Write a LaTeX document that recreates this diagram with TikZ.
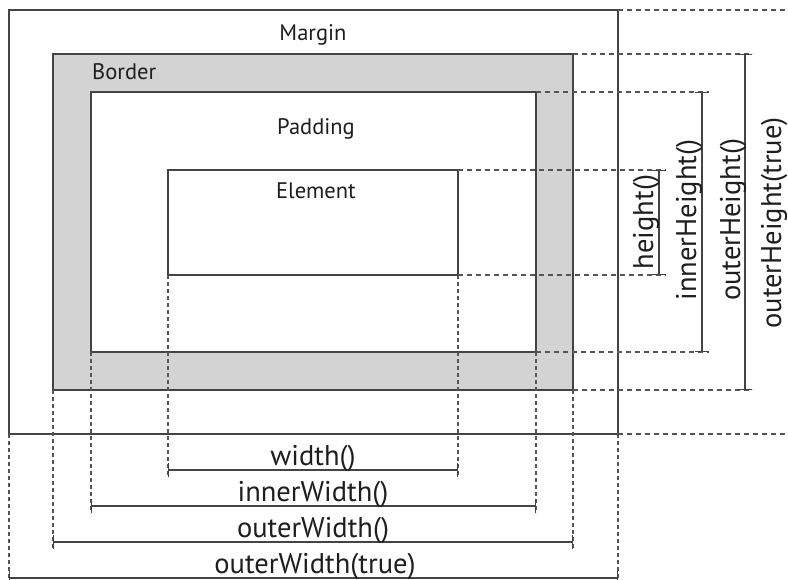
\documentclass[tikz,border=0pt]{standalone}
\usepackage{fontspec}
\setmainfont{PT Sans}
\usetikzlibrary{arrows.meta}
\definecolor{linegray}{HTML}{444444}
\definecolor{dashgray}{HTML}{555555}
\definecolor{bordergray}{HTML}{D3D3D3}
\definecolor{textdark}{HTML}{1E1E1E}
\tikzset{
  boxline/.style={draw=linegray, line width=1.6pt},
  extline/.style={draw=dashgray, line width=1.3pt, dash pattern=on 5pt off 4pt},
  vextline/.style={draw=dashgray, line width=1.3pt, dash pattern=on 4pt off 3pt},
  measure/.style={draw=linegray, line width=1.4pt, {Bar[width=14pt,line width=1.4pt]}-{Bar[width=14pt,line width=1.4pt]}},
  boxlabel/.style={text=textdark, font=\fontsize{22.5}{26}\selectfont, inner sep=0pt, anchor=base},
  dimlabel/.style={text=textdark, font=\fontsize{28.5}{32}\selectfont, inner sep=0pt, anchor=base},
}
\begin{document}
\begin{tikzpicture}[x=1pt,y=-1pt]
\useasboundingbox (0,0) rectangle (788,580);
% corner coordinates
\coordinate (mtl) at (9,10);   \coordinate (mbr) at (618,434);
\coordinate (btl) at (53,54);  \coordinate (bbr) at (573,390);
\coordinate (ptl) at (91,92);  \coordinate (pbr) at (536,352);
\coordinate (etl) at (168,170);\coordinate (ebr) at (458,275);
% boxes
\draw[boxline, fill=white] (mtl) rectangle (mbr);
\draw[boxline, fill=bordergray] (btl) rectangle (bbr);
\draw[boxline, fill=white] (ptl) rectangle (pbr);
\draw[boxline, fill=white] (etl) rectangle (ebr);
% box labels
\node[boxlabel] (lmargin) at (313,41) {Margin};
\node[boxlabel, anchor=base west] (lborder) at (92,80) {Border};
\node[boxlabel] (lpadding) at (316,135) {Padding};
\node[boxlabel] (lelement) at (316,199) {Element};
% right extension coordinates
\coordinate (r10a) at (618,10);  \coordinate (r10b) at (788,10);
\coordinate (r54a) at (573,54);  \coordinate (r54b) at (753,54);
\coordinate (r92a) at (536,92);  \coordinate (r92b) at (709,92);
\coordinate (r170a) at (458,170);\coordinate (r170b) at (666,170);
\coordinate (r275a) at (458,275);\coordinate (r275b) at (666,275);
\coordinate (r352a) at (536,352);\coordinate (r352b) at (709,352);
\coordinate (r390a) at (573,390);\coordinate (r390b) at (753,390);
\coordinate (r434a) at (618,434);\coordinate (r434b) at (788,434);
\foreach \n in {10,54,92,170,275,352,390,434}{\draw[extline] (r\n a) -- (r\n b);}
% bottom extension coordinates
\coordinate (d168a) at (168,275); \coordinate (d168b) at (168,477);
\coordinate (d458a) at (458,275); \coordinate (d458b) at (458,477);
\coordinate (d91a) at (91,352);   \coordinate (d91b) at (91,513);
\coordinate (d536a) at (536,352); \coordinate (d536b) at (536,513);
\coordinate (d53a) at (53,390);   \coordinate (d53b) at (53,549);
\coordinate (d573a) at (573,390); \coordinate (d573b) at (573,549);
\coordinate (d9a) at (9,434);     \coordinate (d9b) at (9,580);
\coordinate (d618a) at (618,434); \coordinate (d618b) at (618,580);
\foreach \n in {168,458,91,536,53,573,9,618}{\draw[vextline] (d\n a) -- (d\n b);}
% vertical measures (right)
\coordinate (hA) at (659,170); \coordinate (hB) at (659,275);
\coordinate (ihA) at (702,92); \coordinate (ihB) at (702,352);
\coordinate (ohA) at (745,54); \coordinate (ohB) at (745,390);
\draw[measure] (hA) -- (hB);
\draw[measure] (ihA) -- (ihB);
\draw[measure] (ohA) -- (ohB);
% horizontal measures (bottom)
\coordinate (wA) at (168,470); \coordinate (wB) at (458,470);
\coordinate (iwA) at (91,506); \coordinate (iwB) at (536,506);
\coordinate (owA) at (53,542); \coordinate (owB) at (573,542);
\coordinate (otA) at (9,578);  \coordinate (otB) at (618,578);
\draw[measure] (wA) -- (wB);
\draw[measure] (iwA) -- (iwB);
\draw[measure] (owA) -- (owB);
\draw[measure] (otA) -- (otB);
% dimension labels
\node[dimlabel] (lw) at (313,465) {width()};
\node[dimlabel] (liw) at (313,501) {innerWidth()};
\node[dimlabel] (low) at (313,537) {outerWidth()};
\node[dimlabel] (lot) at (315,573) {outerWidth(true)};
\node[dimlabel, rotate=90] (lh) at (653,222) {height()};
\node[dimlabel, rotate=90] (lih) at (696,220) {innerHeight()};
\node[dimlabel, rotate=90] (loh) at (740,220) {outerHeight()};
\node[dimlabel, rotate=90] (loht) at (781,223) {outerHeight(true)};
\end{tikzpicture}
\end{document}
